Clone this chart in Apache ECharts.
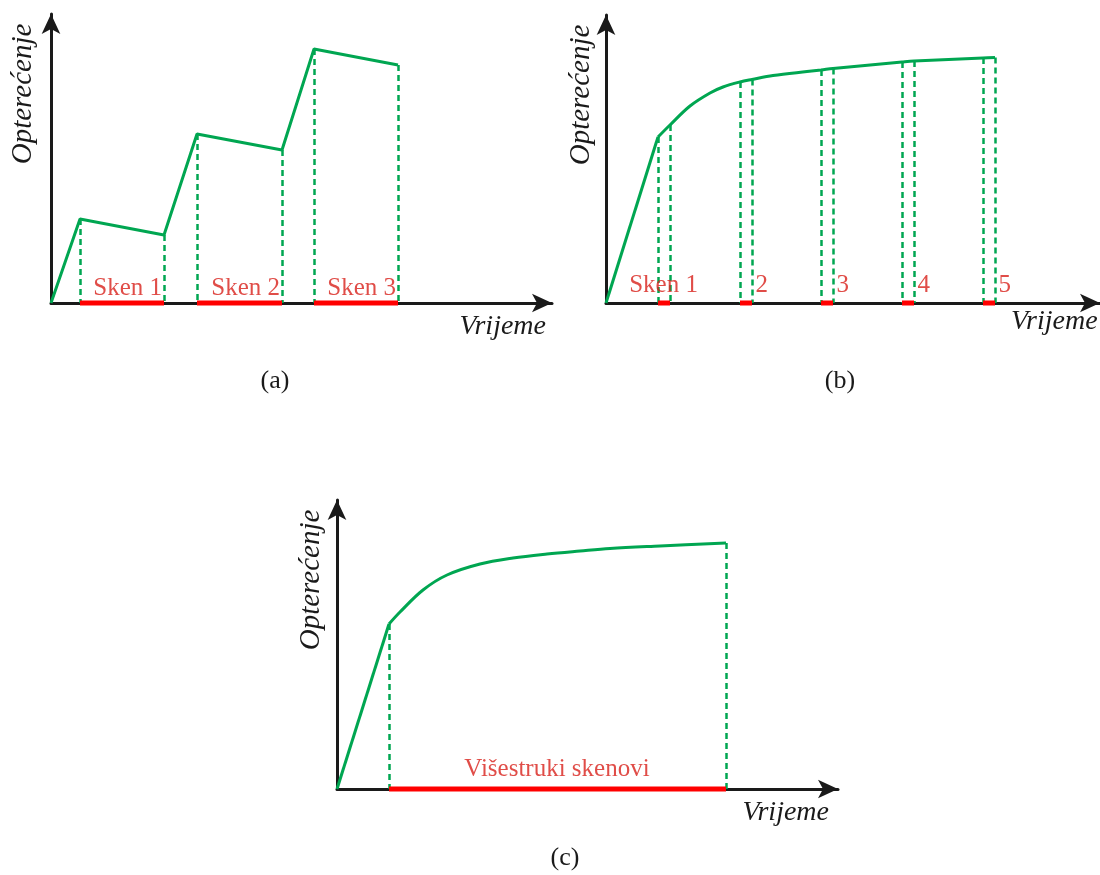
<!DOCTYPE html>
<html><head><meta charset="utf-8">
<script src="https://cdn.jsdelivr.net/npm/echarts@6/dist/echarts.min.js"></script>
<style>html,body{margin:0;padding:0;background:#fff}#c{width:1100px;height:875px}</style>
</head><body><div id="c"></div>
<script>
// ---------- Panel (a) : discrete load steps ----------
const aLoad = [[0,0],[2.9,8.4],[11.3,6.8],[14.6,16.9],[23.1,15.3],[26.3,25.4],[34.7,23.8]];
const aScanStart = [2.9, 14.6, 26.3];
const aScanEnd = [11.3, 23.1, 34.7];
const aScanLabels = ['Sken 1', 'Sken 2', 'Sken 3'];
const aDashX = [2.9, 11.3, 14.6, 23.1, 26.3, 34.7];
const aDashTop = [8.4, 6.8, 16.9, 15.3, 25.4, 23.8];

// ---------- Panel (b) : continuous load, short scans ----------
const bRamp = [[0,0],[5.2,16.6]];
const bCurve = [[5.2,16.6],[6.4,17.8],[8.4,19.7],[10.4,21.0],[11.7,21.6],[13.4,22.1],[14.6,22.35],[16.7,22.75],[20.1,23.15],[21.5,23.3],[22.7,23.45],[29.6,24.1],[30.8,24.2],[37.7,24.5],[38.9,24.55]];
const bScanStart = [5.2, 13.4, 21.5, 29.6, 37.7];
const bScanEnd = [6.4, 14.6, 22.7, 30.8, 38.9];
const bScanLabels = ['Sken 1', '2', '3', '4', '5'];
const bDashX = [5.2, 6.4, 13.4, 14.6, 21.5, 22.7, 29.6, 30.8, 37.7, 38.9];
const bDashTop = [16.6, 17.8, 22.1, 22.35, 23.3, 23.45, 24.1, 24.2, 24.5, 24.55];

// ---------- Panel (c) : continuous load, multiple scans ----------
const cRamp = [[0,0],[5.2,16.5]];
const cCurve = [[5.2,16.5],[6.3,17.7],[8.6,19.9],[11.0,21.4],[14.3,22.5],[17.6,23.1],[21.0,23.5],[24.3,23.8],[27.3,24.05],[32.3,24.3],[38.9,24.6]];
const cScanStart = [5.2];
const cScanEnd = [38.9];
const cScanLabels = ['Višestruki skenovi'];
const cDashX = [5.2, 38.9];
const cDashTop = [16.5, 24.6];

// ---------- texts ----------
const yName = 'Opterećenje';
const xName = 'Vrijeme';
const panelLabels = ['(a)', '(b)', '(c)'];

const GREEN = '#00a651', RED = '#ff0000', RED_TXT = '#d8201a', AX = '#1a1a1a';
const SERIF = '"Liberation Serif", "Times New Roman", serif';

const grids = [
  {left: 51, top: 14, width: 501, height: 289, xMax: 50.1, yMax: 28.9},
  {left: 606, top: 15, width: 494, height: 288, xMax: 49.4, yMax: 28.8},
  {left: 337, top: 500, width: 501, height: 289, xMax: 50.1, yMax: 28.9}
];

function mkAxis(g, i, isX) {
  return {
    type: 'value', gridIndex: i, min: 0, max: isX ? g.xMax : g.yMax,
    axisLine: {show: true, onZero: false, symbol: ['none', 'arrow'], symbolSize: [14, 20],
      lineStyle: {color: AX, width: 3}},
    axisTick: {show: false}, axisLabel: {show: false}, splitLine: {show: false}
  };
}

const series = [];
function dashMark(xs, tops) {
  return {
    symbol: 'none', silent: true, animation: false,
    label: {show: false},
    lineStyle: {color: GREEN, width: 2.5, type: [6, 4]},
    data: xs.map((x, k) => [{coord: [x, tops[k]]}, {coord: [x, 0]}])
  };
}
function lineSeries(i, data, smooth, mark) {
  const s = {type: 'line', xAxisIndex: i, yAxisIndex: i, data: data, smooth: smooth,
    showSymbol: false, symbol: 'none', clip: false, z: 5, animation: false,
    lineStyle: {color: GREEN, width: 3}};
  if (mark) s.markLine = mark;
  return s;
}
function scanSeries(i, starts, ends) {
  starts.forEach((s, k) => {
    series.push({type: 'line', xAxisIndex: i, yAxisIndex: i, data: [[s, 0], [ends[k], 0]],
      showSymbol: false, symbol: 'none', clip: false, z: 6, animation: false,
      lineStyle: {color: RED, width: 5, cap: 'butt'}});
  });
}
function labelSeries(i, items) {
  series.push({type: 'scatter', xAxisIndex: i, yAxisIndex: i, symbolSize: 1, clip: false,
    itemStyle: {color: 'rgba(0,0,0,0)'}, z: 7, animation: false, silent: true,
    data: items.map(it => ({value: [it.x, 0], label: {show: true, formatter: it.t,
      position: [it.dx, it.dy], align: it.align, verticalAlign: 'middle',
      color: RED_TXT, fontFamily: SERIF, fontSize: 25}}))});
}

// Panel a
series.push(lineSeries(0, aLoad, false, dashMark(aDashX, aDashTop)));
scanSeries(0, aScanStart, aScanEnd);
labelSeries(0, aScanLabels.map((t, k) => ({t, x: aScanEnd[k], dx: -1.5, dy: -14, align: 'right'})));
// Panel b
series.push(lineSeries(1, bRamp, false, dashMark(bDashX, bDashTop)));
series.push(lineSeries(1, bCurve, 0.35, null));
scanSeries(1, bScanStart, bScanEnd);
labelSeries(1, bScanLabels.map((t, k) => k === 0
  ? ({t, x: (bScanStart[k] + bScanEnd[k]) / 2, dx: 0, dy: -17, align: 'center'})
  : ({t, x: bScanEnd[k], dx: 4, dy: -17, align: 'left'})));
// Panel c
series.push(lineSeries(2, cRamp, false, dashMark(cDashX, cDashTop)));
series.push(lineSeries(2, cCurve, 0.35, null));
scanSeries(2, cScanStart, cScanEnd);
labelSeries(2, cScanLabels.map((t, k) => ({t, x: (cScanStart[k] + cScanEnd[k]) / 2, dx: 0, dy: -19, align: 'center'})));

function txt(x, y, text, size, italic, rot, align) {
  return {type: 'text', x: x, y: y, rotation: rot || 0, silent: true,
    style: {text: text, fill: AX, fontFamily: SERIF, fontSize: size,
      fontStyle: italic ? 'italic' : 'normal', align: align || 'center', verticalAlign: 'middle'}};
}

const chart = echarts.init(document.getElementById('c'), null, {renderer: 'canvas'});
chart.setOption({
  animation: false,
  backgroundColor: '#ffffff',
  grid: grids.map(g => ({left: g.left, top: g.top, width: g.width, height: g.height, containLabel: false})),
  xAxis: grids.map((g, i) => mkAxis(g, i, true)),
  yAxis: grids.map((g, i) => mkAxis(g, i, false)),
  series: series,
  graphic: [
    txt(23, 94, yName, 29, true, Math.PI / 2),
    txt(581, 95, yName, 29, true, Math.PI / 2),
    txt(311, 580, yName, 29, true, Math.PI / 2),
    txt(546, 327, xName, 28, true, 0, 'right'),
    txt(1011, 322, xName, 28, true, 0, 'left'),
    txt(829, 813, xName, 28, true, 0, 'right'),
    txt(275, 381, panelLabels[0], 26, false),
    txt(840, 381, panelLabels[1], 26, false),
    txt(565, 858, panelLabels[2], 26, false)
  ]
});
</script>
</body></html>
